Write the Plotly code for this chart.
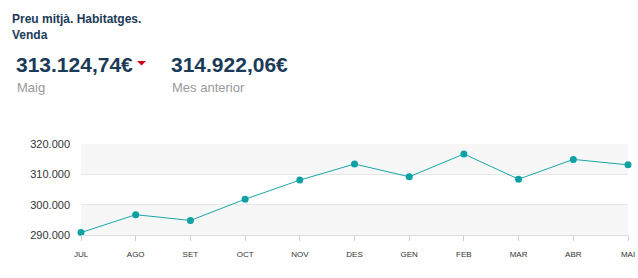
import plotly.graph_objects as go

months = ["JUL", "AGO", "SET", "OCT", "NOV", "DES", "GEN", "FEB", "MAR", "ABR", "MAI"]
prices = [290800, 296700, 294800, 301800, 308100, 313400, 309200, 316700, 308400, 314922.06, 313124.74]
y_ticks = [290000, 300000, 310000, 320000]
title_text = "Preu mitjà. Habitatges.<br>Venda"
current_value = "313.124,74€"
current_label = "Maig"
previous_value = "314.922,06€"
previous_label = "Mes anterior"

W, H = 638, 278
L, R, T, B = 81, 10, 144, 43
pw, ph = W - L - R, H - T - B

def px(x):
    return (x - L) / pw

def py(y):
    return (H - B - y) / ph

fig = go.Figure()
fig.add_trace(go.Scatter(
    x=list(range(len(months))), y=prices, mode="lines+markers",
    line=dict(color="#1aa5a8", width=1),
    marker=dict(color="#0fa1a4", size=7),
    cliponaxis=False, hoverinfo="skip",
))

shapes = []
for lo, hi in [(290000, 300000), (310000, 320000)]:
    shapes.append(dict(type="rect", xref="paper", yref="y", x0=0, x1=1, y0=lo, y1=hi,
                       fillcolor="#f7f7f7", line=dict(width=0), layer="below"))
# red down triangle indicator
shapes.append(dict(type="path", xref="paper", yref="paper", xsizemode="pixel", ysizemode="pixel",
                   xanchor=px(141.5), yanchor=py(63),
                   path="M -4.5,2 L 4.5,2 L 0,-2.5 Z",
                   fillcolor="#d0021b", line=dict(width=0), layer="above"))

font_main = "Liberation Sans, Arial, sans-serif"
ann = []
ann.append(dict(text="<b>" + title_text + "</b>", xref="paper", yref="paper", x=px(10), y=py(10),
                xanchor="left", yanchor="top", showarrow=False, align="left",
                font=dict(family=font_main, size=12, color="#1b3a57")))
ann.append(dict(text="<b>" + current_value + "</b>", xref="paper", yref="paper", x=px(14), y=py(64),
                xanchor="left", yanchor="middle", showarrow=False,
                font=dict(family=font_main, size=21, color="#1b3a57")))
ann.append(dict(text=current_label, xref="paper", yref="paper", x=px(15), y=py(87),
                xanchor="left", yanchor="middle", showarrow=False,
                font=dict(family=font_main, size=13, color="#999999")))
ann.append(dict(text="<b>" + previous_value + "</b>", xref="paper", yref="paper", x=px(169), y=py(64),
                xanchor="left", yanchor="middle", showarrow=False,
                font=dict(family=font_main, size=21, color="#1b3a57")))
ann.append(dict(text=previous_label, xref="paper", yref="paper", x=px(170), y=py(87),
                xanchor="left", yanchor="middle", showarrow=False,
                font=dict(family=font_main, size=13, color="#999999")))

fig.update_layout(
    width=W, height=H, margin=dict(l=L, r=R, t=T, b=B, autoexpand=False),
    paper_bgcolor="white", plot_bgcolor="white",
    separators=",.", showlegend=False,
    shapes=shapes, annotations=ann,
    xaxis=dict(range=[0, len(months) - 1], tickmode="array",
               tickvals=list(range(len(months))), ticktext=months,
               showgrid=False, zeroline=False, showline=True, linecolor="#dddddd", linewidth=1,
               ticks="outside", ticklen=5, tickcolor="#cccccc",
               tickfont=dict(family=font_main, size=8, color="#333333"),
               ticklabelstandoff=6, fixedrange=True, automargin=False),
    yaxis=dict(range=[290000, 320000], tickmode="array", tickvals=y_ticks,
               tickformat=",d", showgrid=True, gridcolor="#e6e6e6", gridwidth=1,
               zeroline=False, showline=False, ticks="",
               tickfont=dict(family=font_main, size=11, color="#333333"),
               ticklabelstandoff=10, fixedrange=True, automargin=False),
)

fig.write_html("out.html", config={"displayModeBar": False})
